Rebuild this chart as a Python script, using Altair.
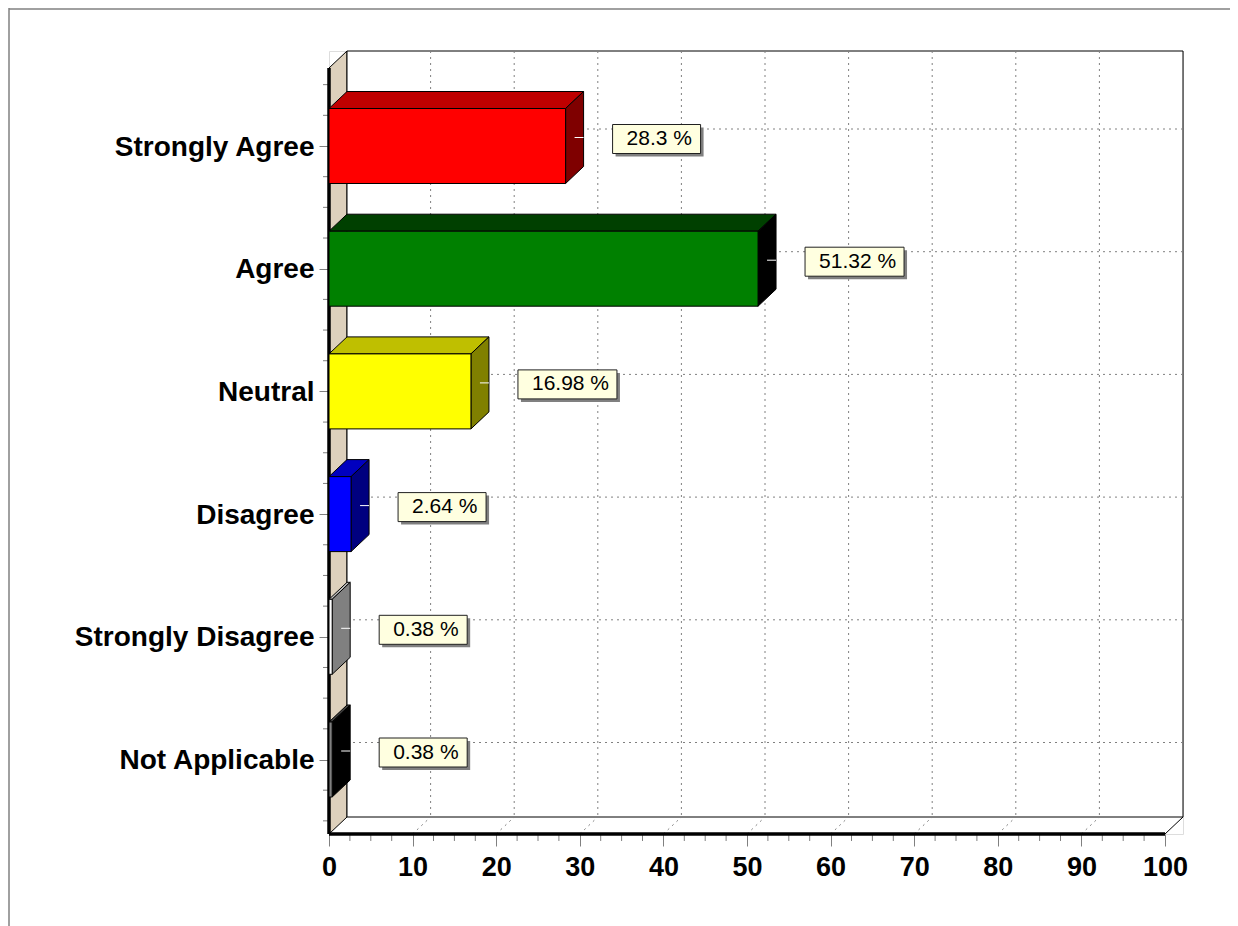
import altair as alt
import pandas as pd

categories = ["Strongly Agree", "Agree", "Neutral", "Disagree", "Strongly Disagree", "Not Applicable"]
values = [28.3, 51.32, 16.98, 2.64, 0.38, 0.38]
labels = ["28.3 %", "51.32 %", "16.98 %", "2.64 %", "0.38 %", "0.38 %"]
face = ["#FF0000", "#008000", "#FFFF00", "#0000FF", "#FFFFFF", "#808080"]
top = ["#BF0000", "#004000", "#BFBF00", "#0000BF", "#BFBFBF", "#404040"]
side = ["#7F0000", "#000000", "#808000", "#00007F", "#808080", "#000000"]
x_major = [0, 10, 20, 30, 40, 50, 60, 70, 80, 90, 100]
x_minor = [2.5, 5, 7.5, 12.5, 15, 17.5, 22.5, 25, 27.5, 32.5, 35, 37.5, 42.5, 45, 47.5, 52.5, 55, 57.5,
           62.5, 65, 67.5, 72.5, 75, 77.5, 82.5, 85, 87.5, 92.5, 95, 97.5]
y_minor = [-0.5, -0.25, 0.25, 0.5, 0.75, 1.25, 1.5, 1.75, 2.25, 2.5, 2.75, 3.25, 3.5, 3.75,
           4.25, 4.5, 4.75, 5.25, 5.5]

PX_X = 8.36     # pixels per percent
PX_Y = 122.7    # pixels per category step
DX = 18 / PX_X
DY = 17 / PX_Y
HALF = 37.5 / PX_Y
Y_TOP = -78 / PX_Y - DY   # top of back wall
Y_BOT = 688 / PX_Y        # front floor edge
Y_FRONT_TOP = Y_TOP + DY
XMAX = 100
W, H = 854, 783

xs = alt.Scale(domain=[0, XMAX + DX], nice=False, zero=False)
ys = alt.Scale(domain=[Y_TOP, Y_BOT], nice=False, zero=False, reverse=True)


def X(f="x", **k):
    k.setdefault("axis", None)
    return alt.X(f"{f}:Q", scale=xs, **k)


def Y(f="y", **k):
    k.setdefault("axis", None)
    return alt.Y(f"{f}:Q", scale=ys, **k)


layers = []

# axes
dummy = pd.DataFrame({"x": [0], "y": [0]})
tick = dict(domain=False, grid=False, title="", tickColor="#808080", tickWidth=1)
font = dict(labelFont="Liberation Sans", labelFontWeight="bold", labelColor="black",
            labelLimit=400, labelOverlap=False, labelFlush=False)
names = "[" + ",".join(f"'{c}'" for c in categories) + "][datum.value]"
layers.append(alt.Chart(dummy).mark_point(opacity=0).encode(
    x=X(axis=alt.Axis(orient="bottom", values=x_major, tickSize=12, labelPadding=8, labelFontSize=27,
                      **tick, **font)),
    y=Y(axis=alt.Axis(orient="left", values=list(range(len(categories))), labelExpr=names, tickSize=10,
                      labelPadding=5, labelOffset=1, labelFontSize=28, **tick, **font))))

# page frame
frame = alt.Chart(pd.DataFrame({"a": [0]}))
layers.append(frame.mark_rule(color="#808080", strokeWidth=1.5).encode(
    x=alt.value(-320), y=alt.value(-43), y2=alt.value(875)))
layers.append(frame.mark_rule(color="#808080", strokeWidth=1.5).encode(
    x=alt.value(-320), x2=alt.value(901), y=alt.value(-42)))

# minor ticks
mx = pd.DataFrame({"x": x_minor})
layers.append(alt.Chart(mx).mark_rule(color="#808080", strokeWidth=1).encode(
    x=X(), y=alt.value(H), y2=alt.value(H + 7)))
my = pd.DataFrame({"y": y_minor})
layers.append(alt.Chart(my).mark_rule(color="#808080", strokeWidth=1).encode(
    y=Y(), x=alt.value(-6), x2=alt.value(0)))

# side wall
wall = pd.DataFrame({"x": [0, DX], "y": [Y_FRONT_TOP, Y_TOP], "y2": [Y_BOT, Y_BOT - DY]})
layers.append(alt.Chart(wall).mark_area(fill="#DDD0BC", stroke="black", strokeWidth=1).encode(
    x=X(), y=Y(), y2="y2:Q"))

# back wall border
back = alt.Chart(pd.DataFrame({"x": [DX], "x2": [XMAX + DX], "y": [Y_TOP], "y2": [Y_BOT - DY]}))
layers.append(back.mark_rect(fill="white", stroke="black", strokeWidth=1).encode(
    x=X(), x2="x2:Q", y=Y(), y2="y2:Q"))

# floor right edge
edge = pd.DataFrame({"x": [XMAX, XMAX + DX], "y": [Y_BOT, Y_BOT - DY]})
layers.append(alt.Chart(edge).mark_line(color="black", strokeWidth=1).encode(x=X(), y=Y()))

dots = dict(color="#808080", strokeWidth=1, strokeDash=[2, 4])

# back wall grid
gx = pd.DataFrame({"x": [v + DX for v in x_major[1:-1]]})
gx["y"], gx["y2"] = Y_TOP, Y_BOT - DY
layers.append(alt.Chart(gx).mark_rule(**dots).encode(x=X(), y=Y(), y2="y2:Q"))
gy = pd.DataFrame({"y": [i - DY for i in range(len(categories))]})
gy["x"], gy["x2"] = DX, XMAX + DX
layers.append(alt.Chart(gy).mark_rule(**dots).encode(x=X(), x2="x2:Q", y=Y()))

# floor grid
floor = pd.DataFrame(
    [{"t": v, "x": v, "y": Y_BOT} for v in x_major[1:-1]]
    + [{"t": v, "x": v + DX, "y": Y_BOT - DY} for v in x_major[1:-1]])
layers.append(alt.Chart(floor).mark_line(**dots).encode(x=X(), y=Y(), detail="t:N"))

# thick axis lines
layers.append(alt.Chart(pd.DataFrame({"x": [0], "y": [Y_FRONT_TOP], "y2": [Y_BOT]})).mark_rule(
    color="black", strokeWidth=3.5).encode(x=X(), y=Y(), y2="y2:Q"))
layers.append(alt.Chart(pd.DataFrame({"x": [0], "x2": [XMAX], "y": [Y_BOT]})).mark_rule(
    color="black", strokeWidth=3.5).encode(x=X(), x2="x2:Q", y=Y()))

# bars
top_rows, side_rows, face_rows, lead_rows = [], [], [], []
for i, (v, f, t, s) in enumerate(zip(values, face, top, side)):
    a, b = i - HALF, i + HALF
    top_rows += [{"c": i, "fill": t, "y": a, "x": 0, "x2": v},
                 {"c": i, "fill": t, "y": a - DY, "x": DX, "x2": v + DX}]
    side_rows += [{"c": i, "fill": s, "x": v, "y": a, "y2": b},
                  {"c": i, "fill": s, "x": v + DX, "y": a - DY, "y2": b - DY}]
    face_rows.append({"c": i, "fill": f, "x": 0, "x2": v, "y": a, "y2": b})
    lead_rows.append({"x": v + 9 / PX_X, "x2": v + DX, "y": i - DY / 2})

layers.append(alt.Chart(pd.DataFrame(top_rows)).mark_area(orient="horizontal", stroke="black", strokeWidth=1).encode(
    x=X(), x2="x2:Q", y=Y(), color=alt.Color("fill:N", scale=None), detail="c:N"))
layers.append(alt.Chart(pd.DataFrame(side_rows)).mark_area(stroke="black", strokeWidth=1).encode(
    x=X(), y=Y(), y2="y2:Q", color=alt.Color("fill:N", scale=None), detail="c:N"))
layers.append(alt.Chart(pd.DataFrame(face_rows)).mark_rect(stroke="black", strokeWidth=1).encode(
    x=X(), x2="x2:Q", y=Y(), y2="y2:Q", color=alt.Color("fill:N", scale=None)))
layers.append(alt.Chart(pd.DataFrame(lead_rows)).mark_rule(color="white", strokeWidth=1).encode(
    x=X(), x2="x2:Q", y=Y()))

# callouts
box_rows = []
for i, (v, lab) in enumerate(zip(values, labels)):
    left = v + 47 / PX_X
    width = (88 + 11 * (len(lab) - 6)) / PX_X
    cy = i - DY / 2 + 1.5 / PX_Y
    box_rows.append({"x": left, "x2": left + width, "y": cy - 14.5 / PX_Y, "y2": cy + 14.5 / PX_Y,
                     "sx": left + 3 / PX_X, "sx2": left + width + 3 / PX_X,
                     "sy": cy - 11.5 / PX_Y, "sy2": cy + 17.5 / PX_Y,
                     "tx": left + 14 / PX_X, "ty": cy, "label": lab})
boxes = pd.DataFrame(box_rows)
layers.append(alt.Chart(boxes).mark_rect(fill="#808080").encode(
    x=X("sx"), x2="sx2:Q", y=Y("sy"), y2="sy2:Q"))
layers.append(alt.Chart(boxes).mark_rect(fill="#FFFFE0", stroke="#202020", strokeWidth=1).encode(
    x=X(), x2="x2:Q", y=Y(), y2="y2:Q"))
layers.append(alt.Chart(boxes).mark_text(
    align="left", baseline="middle", font="Liberation Sans", fontSize=21, color="black").encode(
    x=X("tx"), y=Y("ty"), text="label:N"))

chart = alt.layer(*layers).properties(
    width=W, height=H,
    autosize=alt.AutoSizeParams(type="none"),
    padding={"left": 321, "top": 43, "right": 47, "bottom": 92},
).resolve_axis(x="independent", y="independent").configure_view(stroke=None).configure(background="white")

chart.save("out.html", embed_options={"renderer": "svg", "actions": False})
